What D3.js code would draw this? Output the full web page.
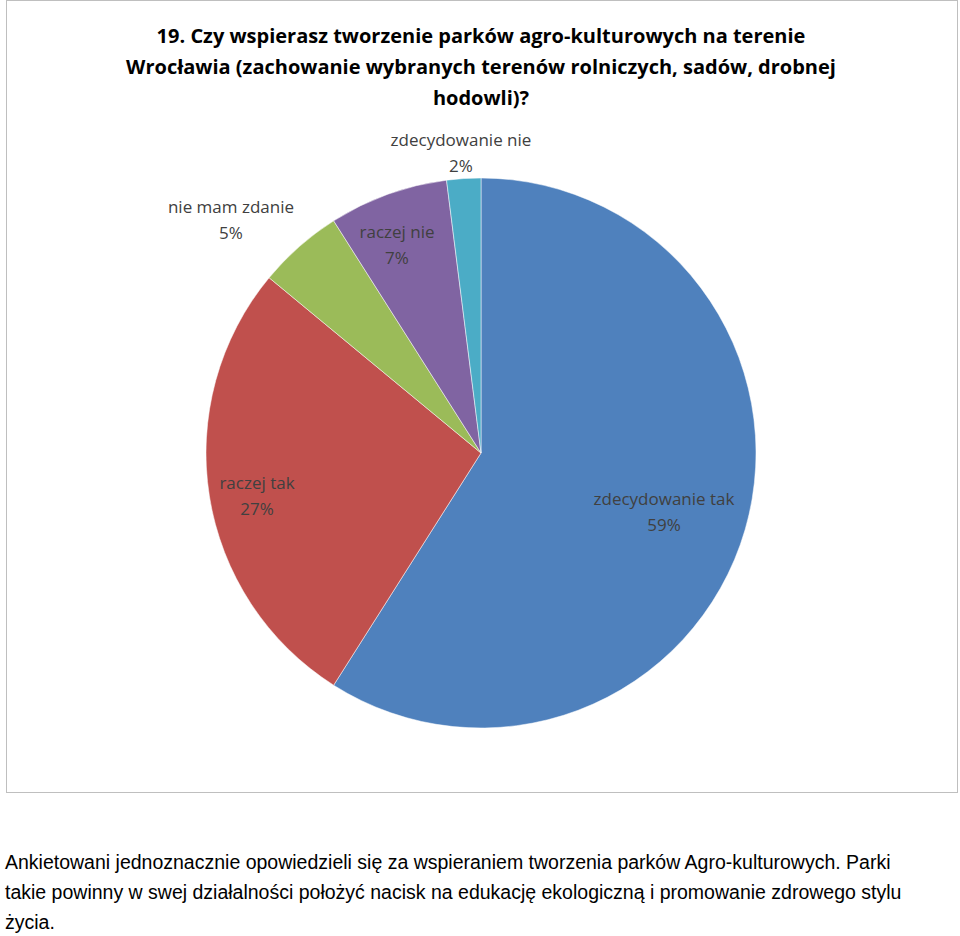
<!DOCTYPE html>
<html><head><meta charset="utf-8">
<script src="https://cdn.jsdelivr.net/npm/d3@7"></script>
<style>body{margin:0;background:#fff}</style>
</head><body>
<svg id="c" width="960" height="936"></svg>
<script>
const categories = ["zdecydowanie tak","raczej tak","nie mam zdanie","raczej nie","zdecydowanie nie"];
const values = [59,27,5,7,2];
const colors = ["#4F81BD","#C0504D","#9BBB59","#8064A2","#4BACC6"];
const titleLines = ["19. Czy wspierasz tworzenie parków agro-kulturowych na terenie","Wrocławia (zachowanie wybranych terenów rolniczych, sadów, drobnej","hodowli)?"];
const noteLines = ["Ankietowani jednoznacznie opowiedzieli się za wspieraniem tworzenia parków Agro-kulturowych. Parki","takie powinny w swej działalności położyć nacisk na edukację ekologiczną i promowanie zdrowego stylu","życia."];
// label positions (layout)
const labelPos = [[664,499],[257,483],[231,207],[397,232],[461,140]];

const svg = d3.select("#c");
svg.append("rect").attr("x",6.5).attr("y",0.5).attr("width",951).attr("height",792)
  .attr("fill","#fff").attr("stroke","#bfbfbf");
svg.selectAll("text.t").data(titleLines).join("text")
  .attr("x",481).attr("y",(d,i)=>43+i*31).attr("text-anchor","middle")
  .attr("font-family","Open Sans, Liberation Sans, sans-serif").attr("font-weight","bold")
  .attr("font-size",20).attr("fill","#000").text(d=>d);

const cx=481, cy=453, r=275;
const pie = d3.pie().sort(null).value(d=>d)(values);
const arc = d3.arc().innerRadius(0).outerRadius(r);
const g = svg.append("g").attr("transform",`translate(${cx},${cy})`);
g.selectAll("path").data(pie).join("path").attr("d",arc)
  .attr("fill",(d,i)=>colors[i]).attr("stroke","#fff").attr("stroke-width",0.5);

const lab = svg.append("g").attr("font-family","Open Sans, Liberation Sans, sans-serif")
  .attr("font-size",17).attr("fill","#404040").attr("text-anchor","middle");
categories.forEach((c,i)=>{
  const [x,y]=labelPos[i];
  lab.append("text").attr("x",x).attr("y",y+6).text(c);
  lab.append("text").attr("x",x).attr("y",y+32).text(values[i]+"%");
});

svg.selectAll("text.n").data(noteLines).join("text")
  .attr("x",5).attr("y",(d,i)=>869+i*30)
  .attr("font-family","Liberation Sans, Arial, sans-serif").attr("font-size",19.5)
  .attr("fill","#000").text(d=>d);
</script>
</body></html>
